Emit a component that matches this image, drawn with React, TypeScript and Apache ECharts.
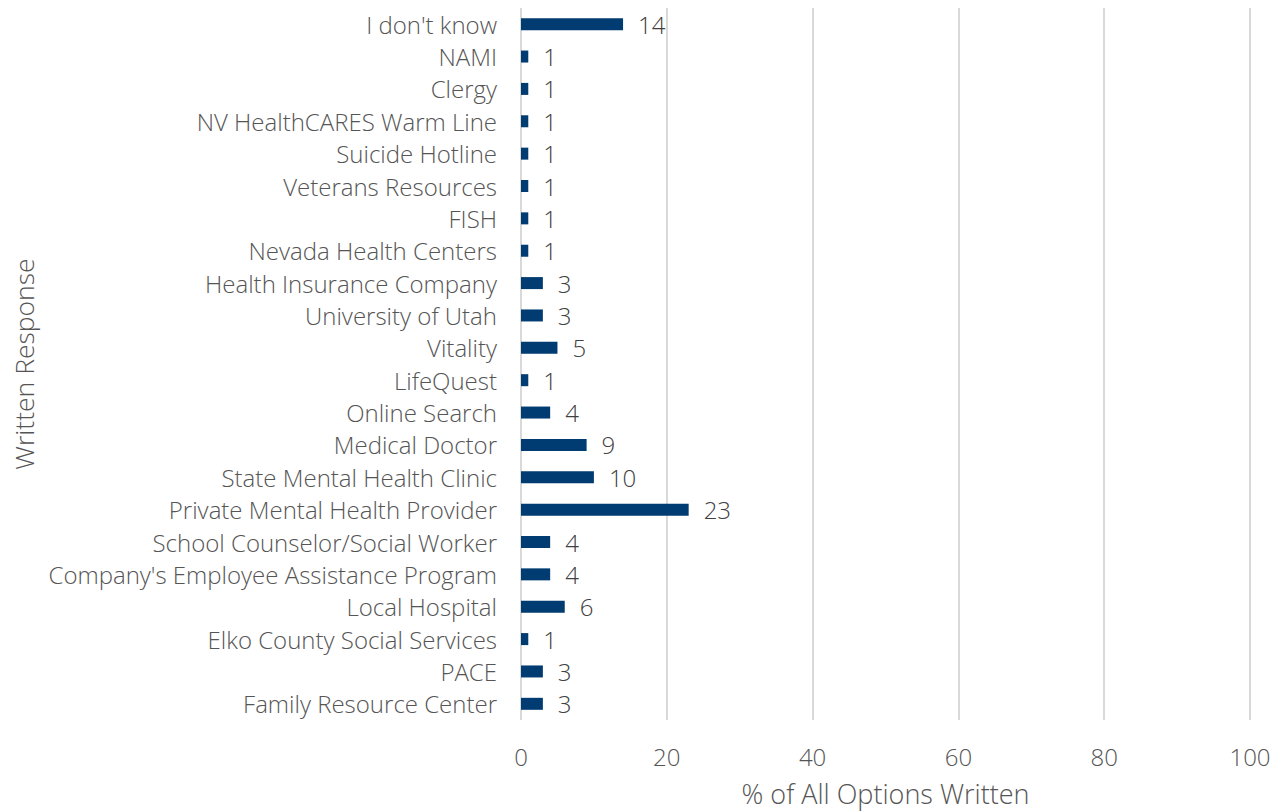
import React, { useEffect, useRef } from "react";
import * as echarts from "echarts";

const categories = [
  "I don't know",
  "NAMI",
  "Clergy",
  "NV HealthCARES Warm Line",
  "Suicide Hotline",
  "Veterans Resources",
  "FISH",
  "Nevada Health Centers",
  "Health Insurance Company",
  "University of Utah",
  "Vitality",
  "LifeQuest",
  "Online Search",
  "Medical Doctor",
  "State Mental Health Clinic",
  "Private Mental Health Provider",
  "School Counselor/Social Worker",
  "Company's Employee Assistance Program",
  "Local Hospital",
  "Elko County Social Services",
  "PACE",
  "Family Resource Center",
];
const values = [14, 1, 1, 1, 1, 1, 1, 1, 3, 3, 5, 1, 4, 9, 10, 23, 4, 4, 6, 1, 3, 3];
const xTitle = "% of All Options Written";
const yTitle = "Written Response";

export default function App() {
  const ref = useRef<HTMLDivElement>(null);
  useEffect(() => {
    if (!ref.current) return;
    const chart = echarts.init(ref.current, null, { renderer: "svg" });
    const font = "'Open Sans', sans-serif";
    const color = "#555555";
    const w = 300;
    chart.setOption({
      animation: false,
      textStyle: { fontFamily: font, color, fontWeight: w },
      grid: { left: 521, right: 30, top: 8, bottom: 91, containLabel: false },
      xAxis: {
        type: "value",
        min: 0,
        max: 100,
        interval: 20,
        name: xTitle,
        nameLocation: "middle",
        nameGap: 60,
        nameTextStyle: { fontSize: 27, color, fontFamily: font, fontWeight: w },
        axisLine: { show: false },
        axisTick: { show: false },
        axisLabel: { fontSize: 24, color, fontFamily: font, fontWeight: w, margin: 24 },
        splitLine: { show: true, lineStyle: { color: "#d9d9d9", width: 2 } },
      },
      yAxis: {
        type: "category",
        inverse: true,
        data: categories,
        name: yTitle,
        nameLocation: "middle",
        nameGap: 483,
        nameRotate: 90,
        nameTextStyle: { fontSize: 26.5, color, fontFamily: font, fontWeight: w },
        axisLine: { show: false },
        axisTick: { show: false },
        axisLabel: { fontSize: 24, color, fontFamily: font, fontWeight: w, margin: 24 },
      },
      series: [
        {
          type: "bar",
          data: values,
          barWidth: 12,
          itemStyle: { color: "#003B71" },
          label: {
            show: true,
            position: "right",
            distance: 15,
            fontSize: 24,
            color: "#404040",
            fontFamily: font,
            fontWeight: w,
          },
        },
      ],
    });
    return () => chart.dispose();
  }, []);
  return (
    <div
      ref={ref}
      style={{ position: "fixed", left: 0, top: 0, width: 1280, height: 812, background: "#fff" }}
    />
  );
}
